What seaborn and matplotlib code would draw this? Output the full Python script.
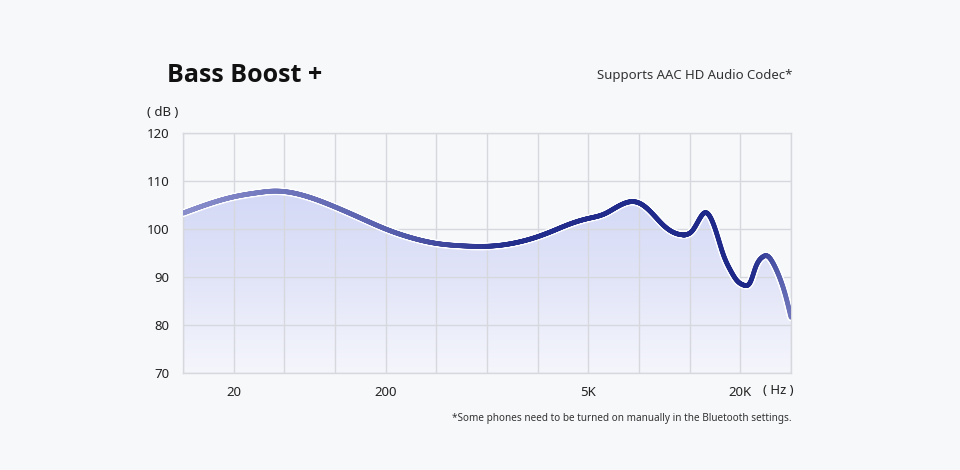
import numpy as np
import pandas as pd
import matplotlib.pyplot as plt
import seaborn as sns
from matplotlib.collections import LineCollection
from matplotlib.colors import LinearSegmentedColormap, to_rgb

sns.set_theme(style="whitegrid")
plt.rcParams["font.family"] = ["Noto Sans", "DejaVu Sans"]

# frequency axis runs in grid columns (0..12), labelled at a few columns
grid_pos = [0, 0.5, 1, 1.5, 1.8, 2, 2.5, 3, 3.5, 4, 4.5, 5, 5.5, 6, 6.5, 7,
            7.3, 7.6, 8, 8.33, 8.5, 8.7, 8.9, 9.1, 9.3, 9.5, 9.7, 9.9, 10.05,
            10.2, 10.3, 10.43, 10.55, 10.67, 10.8, 10.93, 11.07, 11.2, 11.3,
            11.43, 11.53, 11.64, 11.76, 11.88, 12]
db_vals = [103.3, 105.2, 106.7, 107.6, 107.9, 107.8, 106.6, 104.6, 102.3,
           100.0, 98.2, 97.0, 96.5, 96.4, 97.0, 98.4, 99.6, 100.9, 102.2,
           103.2, 104.2, 105.3, 105.7, 104.8, 102.8, 100.6, 99.2, 98.8, 99.6,
           102.2, 103.4, 102.0, 98.5, 94.5, 91.5, 89.3, 88.3, 89.0, 92.0,
           94.1, 94.4, 93.0, 90.3, 86.6, 81.6]
x_tick_pos = [1, 4, 8, 11]
x_tick_labels = ["20", "200", "5K", "20K"]
y_ticks = [70, 80, 90, 100, 110, 120]


def natural_spline(x, y, xs):
    # plain natural cubic spline through the read points, for a smooth stroke
    x = np.asarray(x, float)
    y = np.asarray(y, float)
    n = len(x)
    h = np.diff(x)
    A = np.zeros((n, n))
    b = np.zeros(n)
    A[0, 0] = A[-1, -1] = 1
    for i in range(1, n - 1):
        A[i, i - 1] = h[i - 1]
        A[i, i] = 2 * (h[i - 1] + h[i])
        A[i, i + 1] = h[i]
        b[i] = 3 * ((y[i + 1] - y[i]) / h[i] - (y[i] - y[i - 1]) / h[i - 1])
    c = np.linalg.solve(A, b)
    bb = (y[1:] - y[:-1]) / h - h * (2 * c[:-1] + c[1:]) / 3
    d = (c[1:] - c[:-1]) / (3 * h)
    idx = np.clip(np.searchsorted(x, xs) - 1, 0, n - 2)
    t = xs - x[idx]
    return y[idx] + bb[idx] * t + c[idx] * t ** 2 + d[idx] * t ** 3


df = pd.DataFrame({"pos": grid_pos, "db": db_vals})

bg = "#f7f8fa"
fig = plt.figure(figsize=(9.6, 4.7), dpi=100, facecolor=bg)
ax = fig.add_axes([183 / 960, 1 - 373 / 470, 608 / 960, 240 / 470])
ax.set_facecolor(bg)

sx = np.linspace(0, 12, 1500)
sy = natural_spline(df["pos"], df["db"], sx)

# gradient fill under the curve
fill = ax.fill_between(sx, sy, 70, color="none", lw=0)
grad = LinearSegmentedColormap.from_list("g", ["#f5f6fc", "#e2e5f8", "#d3d8f6"])
img = ax.imshow(np.linspace(0, 1, 256).reshape(-1, 1), cmap=grad, aspect="auto",
                extent=[0, 12, 70, 108], origin="lower", zorder=1)
img.set_clip_path(fill.get_paths()[0], transform=ax.transData)

# white halo under the line
sns.lineplot(x=sx, y=sy, ax=ax, color="white", lw=5.8, zorder=3)

# line colour: lighter at the ends, dark navy in the treble region
light = np.array(to_rgb("#8a8fcc"))
dark = np.array(to_rgb("#1d2889"))
w = np.interp(sx, [0, 2, 4, 6.5, 11.2, 11.7, 12], [0.0, 0.25, 0.45, 0.95, 1.0, 0.55, 0.25])
cols = light[None, :] * (1 - w[:, None]) + dark[None, :] * w[:, None]
pts = np.column_stack([sx, sy]).reshape(-1, 1, 2)
segs = np.concatenate([pts[:-1], pts[1:]], axis=1)
lc = LineCollection(segs, colors=cols[:-1], linewidths=3.4, capstyle="round", zorder=4)
ax.add_collection(lc)

ax.set_xlim(0, 12)
ax.set_ylim(70, 120)
ax.set_xticks(np.arange(0, 13, 1))
ax.set_xticklabels([""] * 13)
ax.set_yticks(y_ticks)
ax.grid(True, color="#d6d8de", lw=1.0, zorder=2)
ax.set_axisbelow(False)
for s in ax.spines.values():
    s.set_visible(True)
    s.set_color("#d6d8de")
    s.set_linewidth(1.0)
ax.tick_params(axis="both", length=0, labelsize=9.5, colors="#222222", pad=10)
ax.set_xlabel("")
ax.set_ylabel("")
for p, lab in zip(x_tick_pos, x_tick_labels):
    ax.text(p, 66.0, lab, ha="center", va="center", fontsize=9.5, color="#222222")

fig.text(167 / 960, 1 - 76 / 470, "Bass Boost +", fontsize=18, fontweight="bold",
         family=["Open Sans", "Lato", "DejaVu Sans"],
         color="#111111", va="center", ha="left")
fig.text(792 / 960, 1 - 76 / 470, "Supports AAC HD Audio Codec*", fontsize=9.5,
         color="#333333", va="center", ha="right")
fig.text(163 / 960, 1 - 112 / 470, "( dB )", fontsize=9.5, color="#222222",
         va="center", ha="center")
fig.text(778 / 960, 1 - 391 / 470, "( Hz )", fontsize=9.5, color="#222222",
         va="center", ha="center")
fig.text(792 / 960, 1 - 418 / 470,
         "*Some phones need to be turned on manually in the Bluetooth settings.",
         fontsize=7.2, color="#333333", va="center", ha="right")

fig.savefig("out.png", dpi=100, facecolor=bg)
